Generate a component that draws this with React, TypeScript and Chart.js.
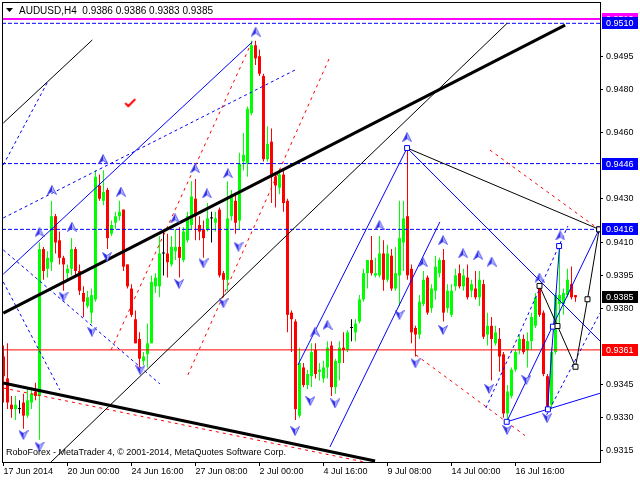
import React, { useEffect, useRef } from "react";
import { Chart, registerables } from "chart.js";

Chart.register(...registerables);

// ---------- AUDUSD H4 candles (bar index 0 = 17 Jun 2014) ----------
const opens = [
  0.9358, 0.9348, 0.9336, 0.9334, 0.9334, 0.9337, 0.9331, 0.9337, 0.9342, 0.934,
  0.9407, 0.9398, 0.9401, 0.9422, 0.9411, 0.9403, 0.9396, 0.9398, 0.9407, 0.9397,
  0.9387, 0.9381, 0.9378, 0.9384, 0.9436, 0.9429, 0.9434, 0.9414, 0.9419, 0.9422,
  0.9425, 0.94, 0.9389, 0.9375, 0.9366, 0.9356, 0.9359, 0.9364, 0.939, 0.939,
  0.9405, 0.9405, 0.94, 0.9406, 0.9408, 0.9402, 0.9411, 0.9418, 0.943, 0.9418,
  0.9416, 0.9416, 0.9421, 0.9419, 0.9425, 0.9396, 0.9393, 0.9422, 0.9429, 0.942,
  0.9447, 0.9446, 0.9469, 0.95, 0.9495, 0.9486, 0.9448, 0.9456, 0.944, 0.9435,
  0.9441, 0.9429, 0.9378, 0.9374, 0.9331, 0.9353, 0.9345, 0.9349, 0.9361, 0.9351,
  0.9348, 0.9353, 0.9363, 0.9344, 0.9355, 0.9362, 0.9361, 0.9371, 0.9369, 0.9374,
  0.9384, 0.9396, 0.9402, 0.9395, 0.9395, 0.9405, 0.9393, 0.9404, 0.9389, 0.9395,
  0.941, 0.9422, 0.9398, 0.9371, 0.9368, 0.9382, 0.9394, 0.938, 0.9388, 0.9396,
  0.9402, 0.938, 0.9377, 0.939, 0.9396, 0.939, 0.9394, 0.9388, 0.9389, 0.9385,
  0.9391, 0.9368, 0.9372, 0.9364, 0.9366, 0.9359, 0.9332, 0.934, 0.9352, 0.9361,
  0.9366, 0.9361, 0.9365, 0.9372, 0.9389, 0.9378, 0.9349, 0.9336, 0.936, 0.9382,
  0.9382, 0.9386, 0.9391, 0.9386,
];
const highs = [
  0.9363, 0.9364, 0.934, 0.934, 0.9338, 0.9341, 0.9344, 0.9344, 0.9346, 0.941,
  0.9408, 0.9406, 0.9429, 0.9423, 0.9415, 0.9404, 0.94, 0.9412, 0.9408, 0.94,
  0.939, 0.9388, 0.9389, 0.9443, 0.9441, 0.9443, 0.9435, 0.942, 0.9424, 0.9429,
  0.9425, 0.94, 0.9391, 0.9379, 0.9369, 0.936, 0.9373, 0.9395, 0.9396, 0.9413,
  0.9415, 0.9414, 0.9413, 0.9416, 0.9417, 0.9417, 0.9424, 0.9438, 0.9439, 0.9422,
  0.942, 0.9428, 0.9424, 0.9424, 0.9426, 0.9397, 0.9438, 0.9434, 0.9432, 0.9451,
  0.946, 0.9472, 0.9502, 0.9502, 0.9498, 0.9487, 0.9463, 0.9462, 0.9442, 0.9443,
  0.9443, 0.943, 0.9379, 0.9375, 0.9362, 0.9355, 0.9352, 0.9364, 0.9364, 0.9355,
  0.9356, 0.9365, 0.9365, 0.9357, 0.9365, 0.9369, 0.937, 0.9375, 0.9375, 0.9386,
  0.9398, 0.9402, 0.9413, 0.9403, 0.9413, 0.9411, 0.9409, 0.9407, 0.9408, 0.9429,
  0.9429, 0.9453, 0.94, 0.9372, 0.9386, 0.9397, 0.9395, 0.9391, 0.9404, 0.9403,
  0.9407, 0.9391, 0.9391, 0.9398, 0.94, 0.9398, 0.94, 0.9393, 0.9397, 0.9397,
  0.9393, 0.9378, 0.9376, 0.9372, 0.9371, 0.936, 0.9345, 0.9353, 0.9361, 0.9368,
  0.9368, 0.9369, 0.9378, 0.9387, 0.939, 0.9379, 0.935, 0.9362, 0.9387, 0.9409,
  0.9389, 0.9398, 0.9399, 0.9386,
];
const lows = [
  0.9337, 0.9334, 0.933, 0.9329, 0.9332, 0.9325, 0.933, 0.9334, 0.9338, 0.932,
  0.9393, 0.9394, 0.9397, 0.9405, 0.94, 0.9388, 0.9392, 0.9395, 0.9394, 0.9386,
  0.9376, 0.938, 0.9373, 0.9383, 0.9429, 0.9427, 0.9407, 0.9413, 0.9416, 0.942,
  0.9397, 0.9389, 0.9376, 0.9364, 0.9353, 0.9354, 0.9353, 0.9364, 0.9387, 0.9385,
  0.9395, 0.9394, 0.9399, 0.9402, 0.9394, 0.9401, 0.941, 0.9416, 0.9411, 0.9411,
  0.9403, 0.9415, 0.941, 0.9415, 0.9394, 0.9385, 0.9388, 0.942, 0.9414, 0.9416,
  0.9443, 0.944, 0.9468, 0.9491, 0.9486, 0.9447, 0.9447, 0.9428, 0.9426, 0.9432,
  0.9424, 0.9369, 0.936, 0.9329, 0.933, 0.9344, 0.9343, 0.9344, 0.9348, 0.9347,
  0.9346, 0.9348, 0.934, 0.9341, 0.9347, 0.9355, 0.936, 0.9365, 0.9365, 0.9373,
  0.9383, 0.9389, 0.9395, 0.9394, 0.9394, 0.9388, 0.9392, 0.9388, 0.9388, 0.9381,
  0.9397, 0.9393, 0.9364, 0.9358, 0.9366, 0.9381, 0.9377, 0.9378, 0.9384, 0.9394,
  0.9374, 0.9378, 0.9376, 0.9388, 0.9389, 0.9388, 0.9384, 0.9385, 0.9384, 0.9381,
  0.9366, 0.9363, 0.9347, 0.9363, 0.9351, 0.933, 0.9329, 0.9339, 0.9351, 0.9359,
  0.9359, 0.9353, 0.9361, 0.9371, 0.9376, 0.9349, 0.9334, 0.9334, 0.9359, 0.9372,
  0.9377, 0.9385, 0.9384, 0.9383,
];
const closes = [
  0.9349, 0.9337, 0.9334, 0.9336, 0.9334, 0.9331, 0.9338, 0.9341, 0.934, 0.9407,
  0.9397, 0.9403, 0.9422, 0.941, 0.9403, 0.94, 0.9398, 0.9407, 0.9397, 0.9388,
  0.9383, 0.9385, 0.9386, 0.944, 0.943, 0.9433, 0.9412, 0.9418, 0.9422, 0.9424,
  0.9399, 0.939, 0.9377, 0.9364, 0.9357, 0.9358, 0.9364, 0.9392, 0.9394, 0.9405,
  0.9405, 0.9401, 0.9408, 0.9408, 0.9403, 0.9415, 0.9422, 0.9431, 0.9422, 0.9415,
  0.9412, 0.9421, 0.9421, 0.9421, 0.9395, 0.9393, 0.9421, 0.9432, 0.9419, 0.9446,
  0.945, 0.9471, 0.95, 0.9494, 0.9487, 0.9448, 0.9455, 0.944, 0.9436, 0.9441,
  0.9428, 0.9377, 0.9375, 0.9334, 0.9355, 0.9345, 0.935, 0.936, 0.935, 0.9352,
  0.9353, 0.9362, 0.9344, 0.9356, 0.9362, 0.9361, 0.9369, 0.9371, 0.9373, 0.9384,
  0.9396, 0.9402, 0.9396, 0.9396, 0.9405, 0.9393, 0.9405, 0.9389, 0.9396, 0.9412,
  0.9421, 0.9395, 0.9369, 0.9368, 0.9383, 0.9393, 0.9378, 0.9389, 0.9399, 0.9402,
  0.9378, 0.9388, 0.9388, 0.9395, 0.939, 0.9395, 0.9385, 0.9391, 0.9385, 0.9393,
  0.9367, 0.9372, 0.9366, 0.9369, 0.9358, 0.9332, 0.9342, 0.9352, 0.936, 0.9366,
  0.936, 0.9365, 0.9376, 0.9385, 0.9377, 0.935, 0.9335, 0.936, 0.9386, 0.9386,
  0.9387, 0.9393, 0.9385, 0.9385,
];

const symbolTitle = "AUDUSD,H4";
const copyrightText = "RoboForex - MetaTrader 4, \u00a9 2001-2014, MetaQuotes Software Corp.";

// ---------- axes ----------
const xTickBars = [0, 16, 32, 48, 64, 80, 96, 112, 128];
const xTickLabels = [
  "17 Jun 2014", "20 Jun 00:00", "24 Jun 16:00", "27 Jun 08:00", "2 Jul 00:00",
  "4 Jul 16:00", "9 Jul 08:00", "14 Jul 00:00", "16 Jul 16:00",
];
const yTickValues = [0.9315, 0.933, 0.9345, 0.938, 0.9395, 0.941, 0.943, 0.946, 0.948, 0.9495];

const boxPrices = [0.9512, 0.951, 0.9446, 0.9416, 0.9385, 0.9361];
const boxColors = ["#ff00ff", "#0000ff", "#0000ff", "#0000ff", "#000000", "#ff0000"];

// ---------- horizontal levels ----------
const levelPrices = [0.9512, 0.951, 0.9446, 0.9416, 0.9361];
const levelColors = ["#ff00ff", "#0000ff", "#0000ff", "#0000ff", "#ff0000"];
const levelWidths = [2, 1, 1, 1, 1];
const levelDashed = [false, true, true, true, false];

// ---------- trend lines: [bar1, price1, bar2, price2] ----------
const blackThickLines = [
  [-0.05, 0.93778, 140.4, 0.95092],
  [-0.05, 0.93459, 92.9, 0.93103],
];
const blackThinLines = [
  [-0.05, 0.94645, 22.2, 0.95024],
  [11.9, 0.93099, 125.9, 0.951],
  [100.9, 0.94531, 148.9, 0.9416],
];
const blueSolidLines = [
  [-0.05, 0.93956, 62.2, 0.95015],
  [73.6, 0.93541, 100.9, 0.94531],
  [81.6, 0.93167, 109.1, 0.94194],
  [100.9, 0.94531, 149.1, 0.93651],
  [125.8, 0.93282, 148.9, 0.9416],
  [125.8, 0.93282, 149.1, 0.93412],
  [136.0, 0.93339, 139.0, 0.94084],
];
const blueDashedLines = [
  [-0.05, 0.94212, 72.9, 0.94887],
  [-0.05, 0.94454, 10.9, 0.94828],
  [-0.05, 0.94066, 39.1, 0.93455],
  [-0.05, 0.9392, 14.1, 0.93427],
  [120.6, 0.93345, 141.1, 0.94175],
  [135.8, 0.93314, 149.1, 0.93778],
];
const redDashedLines = [
  [-0.05, 0.93436, 90.1, 0.93099],
  [26.9, 0.9361, 62.1, 0.95015],
  [46.1, 0.93496, 81.6, 0.94946],
  [103.1, 0.93587, 130.4, 0.93219],
  [121.6, 0.94522, 149.1, 0.94157],
];

// ---------- forecast zigzag ----------
const blackPathBars = [134, 138.5, 143, 146, 148.9];
const blackPathPrices = [0.93902, 0.93719, 0.93533, 0.93841, 0.9416];
const blueSquareBars = [100.9, 125.8, 136.1, 137.35, 138.9, 148.9];
const blueSquarePrices = [0.94531, 0.93282, 0.93339, 0.93716, 0.94084, 0.9416];

// ---------- fractal arrows ----------
const upArrowBars = [9, 12.1, 17.1, 24.9, 29.35, 42.9, 47.9, 50.85, 56.1, 63.05, 77.9, 81, 94, 100.9, 104.9, 109.9, 114.9, 118.7, 122.05, 134, 139.2];
const upArrowPrices = [0.94147, 0.9434, 0.94172, 0.94481, 0.94332, 0.9421, 0.94439, 0.94324, 0.94416, 0.95062, 0.93693, 0.93724, 0.9418, 0.94581, 0.9401, 0.94111, 0.94051, 0.94043, 0.94013, 0.9394, 0.94132];
const downArrowBars = [5, 9, 15, 22.1, 25.85, 34.2, 43.9, 50, 55, 58.75, 72.9, 76.7, 82.9, 99, 103, 109.9, 121.4, 125.9, 130.7, 135.9];
const downArrowPrices = [0.93222, 0.93169, 0.93853, 0.93693, 0.94034, 0.93518, 0.93911, 0.94005, 0.93823, 0.94081, 0.9324, 0.93377, 0.93366, 0.93769, 0.93549, 0.93701, 0.93432, 0.93245, 0.93473, 0.93299];
const checkBars = [31.7];
const checkPrices = [0.94736];

const X_MIN = -0.375;
const X_MAX = 149.125;
const Y_MIN = 0.930986;
const Y_MAX = 0.951972;
const FONT = '"Liberation Sans", Arial, sans-serif';

function makeArrow(up: boolean): HTMLCanvasElement {
  const c = document.createElement("canvas");
  c.width = 10;
  c.height = 10;
  const g = c.getContext("2d")!;
  if (!up) {
    g.translate(0, 10);
    g.scale(1, -1);
  }
  g.beginPath();
  g.moveTo(5, 0.5);
  g.lineTo(9.5, 9.5);
  g.lineTo(5, 6.5);
  g.closePath();
  g.fillStyle = "#b4b4ff";
  g.fill();
  g.beginPath();
  g.moveTo(5, 0.5);
  g.lineTo(5, 6.5);
  g.lineTo(0.5, 9.5);
  g.closePath();
  g.fillStyle = "#2a2ae6";
  g.fill();
  g.strokeStyle = "#4646f0";
  g.lineWidth = 0.8;
  g.beginPath();
  g.moveTo(5, 0.5);
  g.lineTo(9.5, 9.5);
  g.lineTo(5, 6.5);
  g.lineTo(0.5, 9.5);
  g.closePath();
  g.stroke();
  return c;
}

function makeCheck(): HTMLCanvasElement {
  const c = document.createElement("canvas");
  c.width = 12;
  c.height = 10;
  const g = c.getContext("2d")!;
  g.strokeStyle = "#ff0000";
  g.lineWidth = 2;
  g.beginPath();
  g.moveTo(1, 5);
  g.lineTo(4, 8);
  g.lineTo(11, 1);
  g.stroke();
  return c;
}

const candleColor = (i: number) =>
  closes[i] > opens[i] ? "#00ff00" : closes[i] < opens[i] ? "#ff0000" : "#000000";

function segDataset(s: number[], color: string, width: number, dash: number[], order: number) {
  return {
    type: "line",
    data: [
      { x: s[0], y: s[1] },
      { x: s[2], y: s[3] },
    ],
    borderColor: color,
    borderWidth: width,
    borderDash: dash,
    pointRadius: 0,
    pointHoverRadius: 0,
    fill: false,
    tension: 0,
    order,
  };
}

const zeroPadding = (s: any) => {
  s.paddingTop = 0;
  s.paddingBottom = 0;
  s.paddingLeft = 0;
  s.paddingRight = 0;
};

const mt4Plugin = {
  id: "mt4Decor",
  afterDraw(chart: any) {
    const { ctx, chartArea: a, scales } = chart;
    const y = scales.y;
    ctx.save();
    ctx.setLineDash([]);
    ctx.strokeStyle = "#000";
    ctx.lineWidth = 1;
    ctx.strokeRect(a.left + 0.5, a.top + 0.5, a.right - a.left, a.bottom - a.top);

    // header
    ctx.fillStyle = "#000";
    ctx.beginPath();
    ctx.moveTo(6, 8);
    ctx.lineTo(13, 8);
    ctx.lineTo(9.5, 12);
    ctx.closePath();
    ctx.fill();
    const n = opens.length - 1;
    ctx.font = `10px ${FONT}`;
    ctx.textAlign = "left";
    ctx.textBaseline = "middle";
    ctx.fillText(
      `${symbolTitle}  ${[opens[n], highs[n], lows[n], closes[n]].map((v) => v.toFixed(4)).join(" ")}`,
      19,
      11
    );

    // copyright
    ctx.font = `9px ${FONT}`;
    ctx.fillStyle = "#000";
    ctx.fillText(copyrightText, 6, 453);

    // axis price boxes
    ctx.font = `9px ${FONT}`;
    boxPrices.forEach((p, i) => {
      const py = Math.round(y.getPixelForValue(p));
      ctx.fillStyle = boxColors[i];
      ctx.fillRect(a.right + 2, py - 6, 36, 12);
      ctx.fillStyle = "#ffffff";
      ctx.fillText(p.toFixed(4), a.right + 6, py + 0.5);
    });
    ctx.restore();
  },
};

export default function App() {
  const ref = useRef<HTMLCanvasElement | null>(null);

  useEffect(() => {
    if (!ref.current) return;
    const idx = opens.map((_, i) => i);
    const colors = idx.map(candleColor);
    const upArrow = makeArrow(true);
    const downArrow = makeArrow(false);
    const check = makeCheck();

    const datasets: any[] = [];

    datasets.push({
      type: "bar",
      data: idx.map((i) => ({ x: i, y: [lows[i], highs[i]] })),
      backgroundColor: colors,
      borderWidth: 0,
      barThickness: 1,
      grouped: false,
      inflateAmount: 0,
      order: 30,
    });
    datasets.push({
      type: "bar",
      data: idx.map((i) => ({ x: i, y: [opens[i], closes[i]] })),
      backgroundColor: colors,
      borderWidth: 0,
      barThickness: 3,
      grouped: false,
      minBarLength: 1,
      inflateAmount: 0,
      order: 29,
    });

    levelPrices.forEach((p, i) => {
      datasets.push(
        segDataset([X_MIN, p, X_MAX, p], levelColors[i], levelWidths[i], levelDashed[i] ? [4, 2] : [], 20)
      );
    });

    blackThickLines.forEach((s) => datasets.push(segDataset(s, "#000000", 3, [], 10)));
    blackThinLines.forEach((s) => datasets.push(segDataset(s, "#000000", 1, [], 10)));
    blueSolidLines.forEach((s) => datasets.push(segDataset(s, "#0000ff", 1, [], 10)));
    blueDashedLines.forEach((s) => datasets.push(segDataset(s, "#0000ff", 1, [3, 3], 10)));
    redDashedLines.forEach((s) => datasets.push(segDataset(s, "#ff0000", 1, [3, 4], 10)));

    datasets.push({
      type: "line",
      data: blackPathBars.map((b, i) => ({ x: b, y: blackPathPrices[i] })),
      borderColor: "#000000",
      borderWidth: 1,
      pointStyle: "rect",
      pointRadius: 3.5,
      pointBackgroundColor: "#ffffff",
      pointBorderColor: "#000000",
      pointBorderWidth: 1,
      fill: false,
      tension: 0,
      order: 2,
    });
    datasets.push({
      type: "scatter",
      data: blueSquareBars.map((b, i) => ({ x: b, y: blueSquarePrices[i] })),
      showLine: false,
      pointStyle: "rect",
      pointRadius: 3.5,
      pointBackgroundColor: "#ffffff",
      pointBorderColor: "#0000ff",
      pointBorderWidth: 1,
      order: 2,
    });

    datasets.push({
      type: "scatter",
      data: upArrowBars.map((b, i) => ({ x: b, y: upArrowPrices[i] })),
      showLine: false,
      pointStyle: upArrow,
      pointRadius: 5,
      order: 1,
    });
    datasets.push({
      type: "scatter",
      data: downArrowBars.map((b, i) => ({ x: b, y: downArrowPrices[i] })),
      showLine: false,
      pointStyle: downArrow,
      pointRadius: 5,
      order: 1,
    });
    datasets.push({
      type: "scatter",
      data: checkBars.map((b, i) => ({ x: b, y: checkPrices[i] })),
      showLine: false,
      pointStyle: check,
      pointRadius: 6,
      order: 1,
    });

    const chart = new Chart(ref.current, {
      type: "bar",
      data: { datasets },
      options: {
        responsive: false,
        animation: false,
        devicePixelRatio: 1,
        events: [],
        layout: { autoPadding: false, padding: { left: 2, top: 2, right: 0, bottom: 0 } },
        plugins: { legend: { display: false }, tooltip: { enabled: false } },
        scales: {
          x: {
            type: "linear",
            position: "bottom",
            min: X_MIN,
            max: X_MAX,
            offset: false,
            afterFit: (s: any) => {
              s.height = 18;
              zeroPadding(s);
            },
            afterBuildTicks: (s: any) => {
              s.ticks = xTickBars.map((v) => ({ value: v }));
            },
            ticks: {
              autoSkip: false,
              maxRotation: 0,
              minRotation: 0,
              align: "start",
              padding: 0,
              color: "#000",
              font: { family: FONT, size: 9 },
              callback: (v: any) => {
                const k = xTickBars.indexOf(Number(v));
                return k >= 0 ? xTickLabels[k] : "";
              },
            },
            grid: { display: true, drawOnChartArea: false, drawTicks: true, tickLength: 4, color: "#000", offset: false },
            border: { display: true, color: "#000" },
          },
          y: {
            type: "linear",
            position: "right",
            min: Y_MIN,
            max: Y_MAX,
            beginAtZero: false,
            afterFit: (s: any) => {
              s.width = 40;
              zeroPadding(s);
            },
            afterBuildTicks: (s: any) => {
              s.ticks = yTickValues.map((v) => ({ value: v }));
            },
            ticks: {
              autoSkip: false,
              padding: 3,
              color: "#000",
              font: { family: FONT, size: 9 },
              callback: (v: any) => Number(v).toFixed(4),
            },
            grid: { display: true, drawOnChartArea: false, drawTicks: true, tickLength: 3, color: "#000" },
            border: { display: true, color: "#000" },
          },
        },
      } as any,
      plugins: [mt4Plugin],
    } as any);

    return () => chart.destroy();
  }, []);

  return (
    <div style={{ position: "absolute", left: 0, top: 0, width: 640, height: 480, background: "#fff" }}>
      <canvas ref={ref} width={640} height={480} style={{ display: "block", width: 640, height: 480 }} />
    </div>
  );
}
